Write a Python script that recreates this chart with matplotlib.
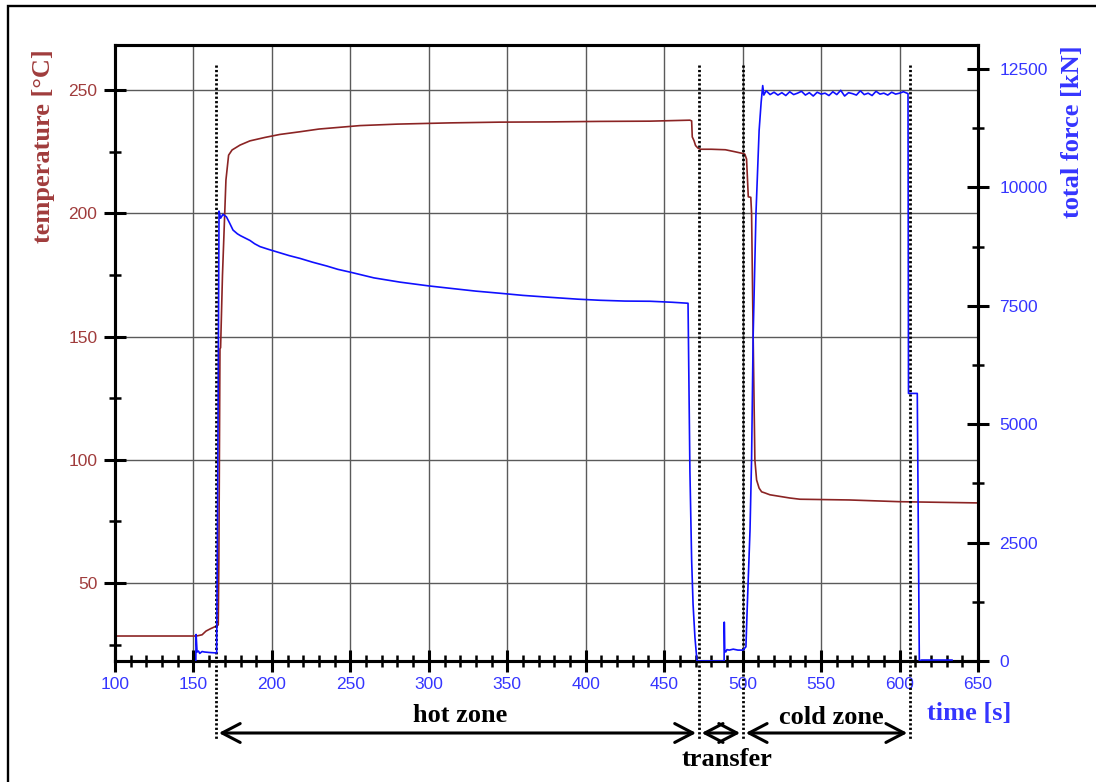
"""Temperature and total force vs time: hot zone / transfer / cold zone"""
import matplotlib.pyplot as plt
from matplotlib.ticker import MultipleLocator
from matplotlib.transforms import blended_transform_factory
from matplotlib.patches import Rectangle

# temperature trace [s, degC]
temp_t = [100, 152, 155.5, 158, 161, 164.5, 165.8, 166.2, 166.9, 167.3,
          168.5, 170.7, 172.4, 174.6, 179.7, 186, 195.6, 205, 217.9, 230,
          256.1, 280, 300, 313.5, 345, 377, 409, 441, 466.4, 467.5,
          467.9, 469, 470, 471.5, 473, 480, 489, 495, 500, 501.4,
          502.5, 503.6, 505.2, 505.7, 506.7, 507.8, 508.9, 510.5, 512.1, 514,
          517.4, 530, 536.5, 568, 600, 620, 650]
temp_v = [28.5, 28.5, 29, 30.5, 31.5, 32.5, 33, 60, 145, 145.5,
          175, 213.5, 223.6, 225.7, 227.7, 229.4, 230.8, 232, 233.1, 234.2,
          235.6, 236.2, 236.5, 236.7, 237, 237.1, 237.3, 237.4, 237.8, 237.5,
          231, 229.5, 227.5, 226.5, 226, 226, 225.8, 225, 224.3, 224,
          222, 206.7, 206.5, 200, 150, 100, 91.8, 88.5, 87, 86.6,
          85.8, 84.5, 84, 83.7, 83, 82.8, 82.5]

# total force trace [s, kN]
force_t = [151.5, 151.7, 152.3, 153.2, 154, 155.5, 157, 160, 164.8, 165.6,
           166.3, 167.3, 168.8, 171, 173, 175.2, 178, 180, 183, 186,
           189, 192.4, 198, 205, 211, 218, 226, 235, 242, 250,
           265, 281.6, 300, 313.5, 330, 345.4, 360, 377, 395, 409,
           425, 441, 455, 465.2, 466.4, 467.5, 468.4, 469.6, 470.9, 488.2,
           488.3, 488.6, 489.2, 490, 491.5, 494, 497, 500.2, 502.1, 503,
           504.7, 505.7, 506.7, 508.5, 510.5, 511.8, 512.8, 513.5, 515, 517.5,
           520, 522.5, 525, 527.5, 530, 532.5, 535, 537.5, 540, 542.5,
           545, 547.5, 550, 552.5, 555, 557.5, 560, 562.5, 565, 567.5,
           570, 572.5, 575, 577.5, 580, 582.5, 585, 587.5, 590, 592.5,
           595, 597.5, 600, 602.5, 605.4, 605.7, 611.3, 612.6, 614, 633.4]
force_v = [0, 560, 190, 210, 160, 200, 190, 180, 170, 4500,
           9500, 9350, 9430, 9380, 9250, 9100, 9020, 8980, 8930, 8880,
           8810, 8750, 8690, 8620, 8560, 8500, 8420, 8340, 8270, 8210,
           8090, 8000, 7920, 7870, 7810, 7765, 7720, 7680, 7640, 7617,
           7600, 7596, 7575, 7554, 4000, 2130, 1200, 500, 0, 0,
           820, 230, 190, 240, 230, 250, 230, 230, 300, 1200,
           2760, 4260, 6860, 9450, 11200, 11800, 12150, 11950, 12040, 11960,
           12010, 11950, 12000, 11940, 12020, 11960, 11990, 12030, 11950, 12000,
           11930, 12010, 11970, 11990, 11940, 12020, 11960, 12050, 11930, 12000,
           11980, 11950, 12040, 11960, 11990, 11940, 12030, 11970, 11990, 11950,
           12010, 11970, 11990, 12020, 11980, 5650, 5650, 0, 20, 20]

# zone boundaries [s]
zone_t = [164.4, 472.1, 500.2, 606.7]

brown_line = '#8b2424'
brown_text = '#a03c3c'
blue_line = '#1010ff'
blue_text = '#3535ff'

W, H = 1096, 782
fig = plt.figure(figsize=(W / 100, H / 100), dpi=100)
ax = fig.add_axes([115 / W, 1 - 661 / H, 863 / W, 616 / H])
ax2 = ax.twinx()

ax.plot(temp_t, temp_v, color=brown_line, lw=1.2, zorder=3)
ax2.plot(force_t, force_v, color=blue_line, lw=1.2, zorder=3)

ax.set_xlim(100, 650)
ax.set_ylim(18.36, 268.3)
ax2.set_ylim(0, 13007)

ax.xaxis.set_major_locator(MultipleLocator(50))
ax.xaxis.set_minor_locator(MultipleLocator(10))
ax.yaxis.set_major_locator(MultipleLocator(50))
ax.yaxis.set_minor_locator(MultipleLocator(25))
ax2.yaxis.set_major_locator(MultipleLocator(2500))
ax2.yaxis.set_minor_locator(MultipleLocator(1250))

ax.grid(True, which='major', color='#5a5a5a', lw=1.0)
ax.set_axisbelow(True)

tick_font = 'Liberation Sans'
ax.tick_params(axis='x', which='major', direction='inout', length=16.5, width=2.2,
               pad=3.5, labelsize=12.5, labelcolor=blue_text)
ax.tick_params(axis='x', which='minor', direction='inout', length=8.6, width=1.8)
ax.tick_params(axis='y', which='major', direction='inout', length=16.5, width=2.2,
               pad=4.5, labelsize=12.5, labelcolor=brown_text)
ax.tick_params(axis='y', which='minor', direction='inout', length=8.6, width=1.8)
ax2.tick_params(axis='y', which='major', direction='inout', length=16.5, width=2.2,
                pad=7, labelsize=12.5, labelcolor=blue_text)
ax2.tick_params(axis='y', which='minor', direction='inout', length=8.6, width=1.8)
for lab in ax.get_xticklabels() + ax.get_yticklabels() + ax2.get_yticklabels():
    lab.set_fontfamily(tick_font)

for a in (ax, ax2):
    for s in a.spines.values():
        s.set_linewidth(2.2)
        s.set_color('black')

# zone boundaries, running below the axes
trans = blended_transform_factory(ax.transData, fig.transFigure)
for zt in zone_t:
    ax.plot([zt, zt], [1 - 65 / H, 1 - 740 / H], transform=trans, color='black',
            lw=2.0, ls=(0, (0.8, 0.8)), clip_on=False, zorder=5)

# zone arrows
arrow_y = 1 - 733 / H
for x0, x1 in zip(zone_t[:-1], zone_t[1:]):
    ax.annotate('', xy=(x0, arrow_y), xytext=(x1, arrow_y), xycoords=trans,
                textcoords=trans, annotation_clip=False,
                arrowprops=dict(arrowstyle='<->,head_length=0.65,head_width=0.34',
                                mutation_scale=20, lw=2.2, color='black',
                                shrinkA=2, shrinkB=2))

serif = dict(family='Liberation Serif', fontweight='bold', fontsize=19)
fig.text(460 / W, 1 - 722 / H, 'hot zone', ha='center', va='baseline', color='black', **serif)
fig.text(831 / W, 1 - 724 / H, 'cold zone', ha='center', va='baseline', color='black', **serif)
fig.text(727 / W, 1 - 766 / H, 'transfer', ha='center', va='baseline', color='black', **serif)
fig.text(969.5 / W, 1 - 720 / H, 'time [s]', ha='center', va='baseline', color=blue_text, **serif)
fig.text(44 / W, 1 - 146 / H, 'temperature [°C]', rotation=90, ha='center', va='center',
         color=brown_text, **serif)
fig.text(1072 / W, 1 - 132 / H, 'total force [kN]', rotation=90, ha='center', va='center',
         color=blue_text, **serif)

# outer frame (cropped on the right and bottom)
fig.patches.append(Rectangle((8 / W, -0.05), 1.2, 1 - 6 / H + 0.05, transform=fig.transFigure,
                             fill=False, lw=1.7, edgecolor='black'))

plt.savefig('out.png', dpi=100)
plt.close()
